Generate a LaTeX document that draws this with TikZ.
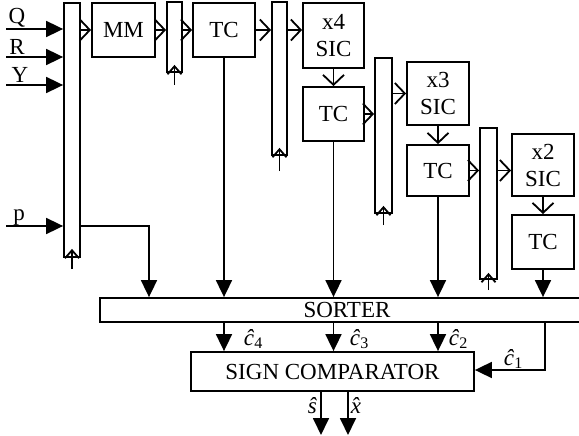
\documentclass[tikz,border=0pt]{standalone}
\usepackage{fontspec}
\setmainfont{Liberation Serif}
\usetikzlibrary{arrows.meta,calc}
\begin{document}
\begin{tikzpicture}[x=1pt,y=-1pt,line width=1.8pt,font=\fontsize{23}{27}\selectfont,
 blk/.style={draw,inner sep=0pt,align=center},
 fa/.style={-{Triangle[length=17pt,width=16pt]}},
 ba/.style={-{Straight Barb[length=10pt,width=21pt]}},
 ua/.style={-{Straight Barb[length=8pt,width=14pt]}},
 lbl/.style={inner sep=0pt,anchor=base}]
\clip (0,0) rectangle (579,436);
% blocks
\node[blk,minimum width=16pt,minimum height=254pt] (r0) at (72,130) {};
\node[blk,minimum width=63pt,minimum height=54pt] (MM) at (123.5,30) {MM};
\node[blk,minimum width=15pt,minimum height=70pt] (r1) at (174.5,37) {};
\node[blk,minimum width=62pt,minimum height=54pt] (TC1) at (224,30) {TC};
\node[blk,minimum width=15pt,minimum height=153pt] (r2) at (279.5,78.5) {};
\node[blk,minimum width=61pt,minimum height=65pt] (S4) at (333.5,35.5) {x4\\SIC};
\node[blk,minimum width=61pt,minimum height=54pt] (TC2) at (333.5,114) {TC};
\node[blk,minimum width=17pt,minimum height=155pt] (r3) at (383.5,135.5) {};
\node[blk,minimum width=62pt,minimum height=63pt] (S3) at (438,93.5) {x3\\SIC};
\node[blk,minimum width=62pt,minimum height=51pt] (TC3) at (438,170.5) {TC};
\node[blk,minimum width=17pt,minimum height=151pt] (r4) at (488.5,203.5) {};
\node[blk,minimum width=62pt,minimum height=62pt] (S2) at (543,165) {x2\\SIC};
\node[blk,minimum width=62pt,minimum height=54pt] (TC4) at (543,242) {TC};
\node[blk,minimum width=494pt,minimum height=24pt] (SO) at (347,310) {SORTER};
\node[blk,minimum width=283pt,minimum height=39pt] (SC) at (332.5,371.5) {SIGN COMPARATOR};
% inputs
\coordinate (iQ) at (6,29); \coordinate (iR) at (6,57);
\coordinate (iY) at (6,85); \coordinate (ip) at (6,226);
\draw[fa] (iQ) -- (iQ -| r0.west);
\draw[fa] (iR) -- (iR -| r0.west);
\draw[fa] (iY) -- (iY -| r0.west);
\draw[fa] (ip) -- (ip -| r0.west);
\node[lbl] (lQ) at (17,24) {Q};
\node[lbl] (lR) at (17,55) {R};
\node[lbl] (lY) at (20,83) {Y};
\node[lbl] (lp) at (19,220) {p};
% chain
\draw[ba] (r0.east |- MM.west) -- (MM.west);
\draw[ba] (MM.east) -- (MM.east -| r1.west);
\draw[ba] (r1.east |- TC1.west) -- (TC1.west);
\draw[ba] (TC1.east) -- (TC1.east -| r2.west);
\draw[ba] (r2.east |- TC1.east) -- (TC1.east -| S4.west);
\draw[ba] (S4.south) -- (TC2.north);
\draw[ba] (TC2.east) -- (TC2.east -| r3.west);
\draw[ba] (r3.east |- S3.west) -- (S3.west);
\draw[ba] (S3.south) -- (TC3.north);
\draw[ba] (TC3.east) -- (TC3.east -| r4.west);
\draw[ba] (r4.east |- TC3.east) -- (TC3.east -| S2.west);
\draw[ba] (S2.south) -- (TC4.north);
% register clock arrows
\coordinate (u0) at (72,269); \coordinate (u1) at (174.5,85);
\coordinate (u2) at (279.5,171); \coordinate (u3) at (383.5,225);
\coordinate (u4) at (488.5,290);
\draw[ua] (u0) -- ([yshift=9pt]r0.south);
\draw[ua] (u1) -- ([yshift=8pt]r1.south);
\draw[ua] (u2) -- ([yshift=8pt]r2.south);
\draw[ua] (u3) -- ([yshift=8pt]r3.south);
\draw[ua] (u4) -- ([yshift=7pt]r4.south);
% into sorter
\coordinate (k0) at (149,226);
\draw[fa] (r0.east |- k0) -- (k0) -- (k0 |- SO.north);
\draw[fa] (TC1.south) -- (TC1.south |- SO.north);
\draw[fa] (TC2.south) -- (TC2.south |- SO.north);
\draw[fa] (TC3.south) -- (TC3.south |- SO.north);
\draw[fa] (TC4.south) -- (TC4.south |- SO.north);
% sorter to comparator
\draw[fa] (TC1.south |- SO.south) -- (TC1.south |- SC.north);
\draw[fa] (TC2.south |- SO.south) -- (TC2.south |- SC.north);
\draw[fa] (TC3.south |- SO.south) -- (TC3.south |- SC.north);
\coordinate (c1) at (545,370);
\draw[fa] (c1 |- SO.south) -- (c1) -- (SC.east |- c1);
% outputs
\coordinate (os) at (321,435); \coordinate (ox) at (348,435);
\draw[fa] (os |- SC.south) -- (os);
\draw[fa] (ox |- SC.south) -- (ox);
% labels
\node[lbl,anchor=base west] (l4) at (243,345) {\textit{\^c}\textsubscript{4}};
\node[lbl,anchor=base west] (l3) at (349,345) {\textit{\^c}\textsubscript{3}};
\node[lbl,anchor=base west] (l2) at (448,345) {\textit{\^c}\textsubscript{2}};
\node[lbl,anchor=base west] (l1) at (503,365) {\textit{\^c}\textsubscript{1}};
\node[lbl,anchor=base east] (ls) at (318,413) {\textit{\^s}};
\node[lbl,anchor=base west] (lx) at (350,413) {\textit{\^x}};
\end{tikzpicture}
\end{document}
